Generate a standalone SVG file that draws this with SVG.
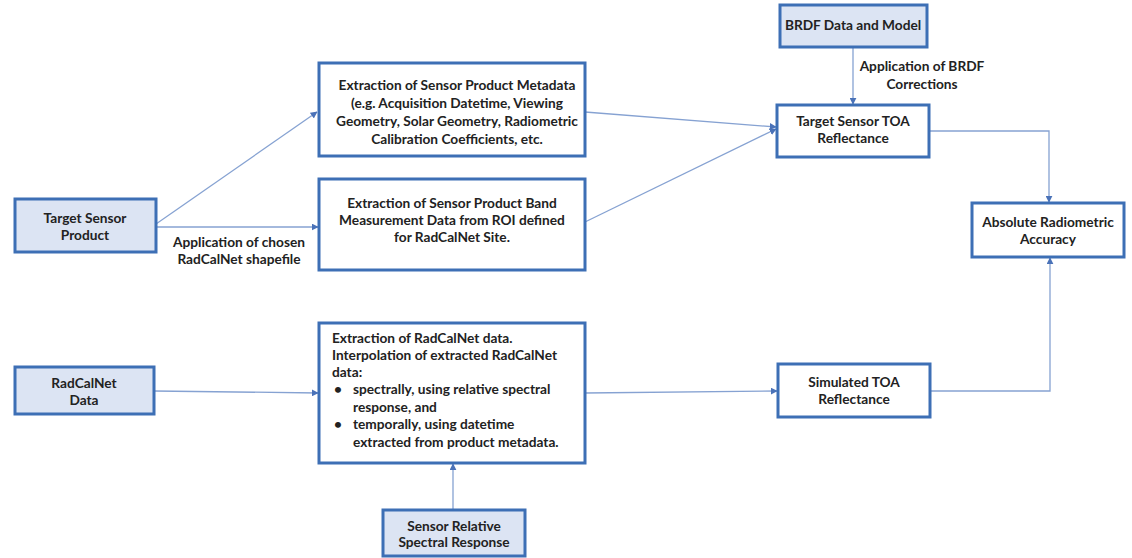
<svg xmlns="http://www.w3.org/2000/svg" width="1132" height="558" viewBox="0 0 1132 558">
<defs>
<marker id="ah" viewBox="0 0 10 10" refX="9" refY="5" markerWidth="7" markerHeight="7" markerUnits="userSpaceOnUse" orient="auto">
<path d="M0,0 L10,5 L0,10 z" fill="#4a72b8"/>
</marker>
<style>
.box{fill:#ffffff;stroke:#3d6fb5;stroke-width:3}
.inp{fill:#dce4f3;stroke:#3d6fb5;stroke-width:3}
text{font-family:Lato,"Open Sans","Liberation Sans",sans-serif;font-weight:bold;font-size:13.7px;fill:#222}
.c{text-anchor:middle}
.ln{fill:none;stroke:#86a2d2;stroke-width:1.3;marker-end:url(#ah)}
</style>
</defs>
<rect width="1132" height="558" fill="#ffffff"/>
<g id="connectors">
<path class="ln" d="M156,224 L317,112"/>
<path class="ln" d="M156,227 L318,227"/>
<path class="ln" d="M585,112 L776,127"/>
<path class="ln" d="M585,222 L776,129"/>
<path class="ln" d="M853,47 L853,104"/>
<path class="ln" d="M929,131 L1049,131 L1049,202"/>
<path class="ln" d="M930,391 L1050,391 L1050,258"/>
<path class="ln" d="M154,391 L318,393"/>
<path class="ln" d="M585,393 L777,391"/>
<path class="ln" d="M453,510 L453,464"/>
<text class="c" x="239" y="247">Application of chosen</text>
<text class="c" x="239" y="264">RadCalNet shapefile</text>
<text class="c" x="922" y="71">Application of BRDF</text>
<text class="c" x="922" y="89">Corrections</text>
</g>
<g id="target-sensor-product">
<rect class="inp" x="15" y="199" width="141" height="53"/>
<text class="c" x="85" y="223">Target Sensor</text>
<text class="c" x="85" y="240">Product</text>
</g>
<g id="metadata">
<rect class="box" x="319" y="63" width="266" height="93"/>
<text class="c" x="457" y="90">Extraction of Sensor Product Metadata</text>
<text class="c" x="457" y="108">(e.g. Acquisition Datetime, Viewing</text>
<text class="c" x="457" y="126">Geometry, Solar Geometry, Radiometric</text>
<text class="c" x="457" y="144">Calibration Coefficients, etc.</text>
</g>
<g id="band-data">
<rect class="box" x="319" y="179" width="266" height="91"/>
<text class="c" x="452" y="208">Extraction of Sensor Product Band</text>
<text class="c" x="452" y="225">Measurement Data from ROI defined</text>
<text class="c" x="452" y="242">for RadCalNet Site.</text>
</g>
<g id="radcalnet-process">
<rect class="box" x="319" y="323" width="266" height="140"/>
<text x="332" y="343">Extraction of RadCalNet data.</text>
<text x="332" y="360">Interpolation of extracted RadCalNet</text>
<text x="332" y="377">data:</text>
<text x="334" y="394">•</text>
<text x="353" y="394">spectrally, using relative spectral</text>
<text x="353" y="412">response, and</text>
<text x="334" y="429">•</text>
<text x="353" y="429">temporally, using datetime</text>
<text x="353" y="447">extracted from product metadata.</text>
</g>
<g id="brdf">
<rect class="inp" x="780" y="5" width="147" height="42"/>
<text class="c" x="853" y="30">BRDF Data and Model</text>
</g>
<g id="target-toa">
<rect class="box" x="777" y="105" width="152" height="52"/>
<text class="c" x="853" y="126">Target Sensor TOA</text>
<text class="c" x="853" y="143">Reflectance</text>
</g>
<g id="absolute-accuracy">
<rect class="box" x="972" y="203" width="152" height="54"/>
<text class="c" x="1048" y="227">Absolute Radiometric</text>
<text class="c" x="1048" y="244">Accuracy</text>
</g>
<g id="radcalnet-data">
<rect class="inp" x="15" y="367" width="139" height="47"/>
<text class="c" x="84" y="388">RadCalNet</text>
<text class="c" x="84" y="405">Data</text>
</g>
<g id="simulated-toa">
<rect class="box" x="778" y="364" width="152" height="53"/>
<text class="c" x="854" y="387">Simulated TOA</text>
<text class="c" x="854" y="404">Reflectance</text>
</g>
<g id="sensor-rsr">
<rect class="inp" x="383" y="510" width="142" height="46"/>
<text class="c" x="454" y="531">Sensor Relative</text>
<text class="c" x="454" y="547">Spectral Response</text>
</g>
</svg>
